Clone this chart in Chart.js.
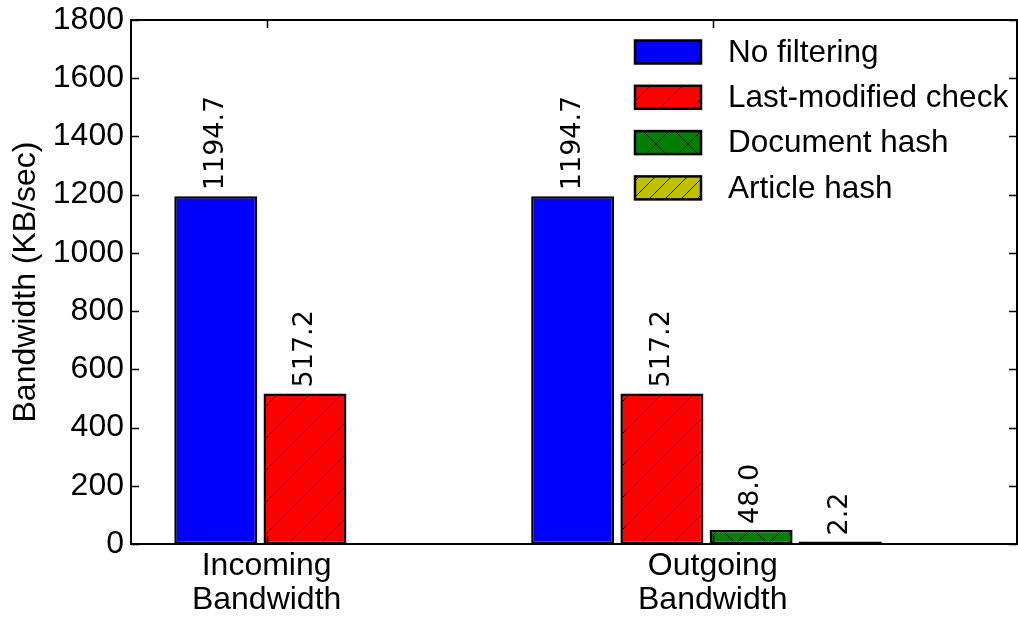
<!DOCTYPE html>
<html>
<head>
<meta charset="utf-8">
<script src="https://cdn.jsdelivr.net/npm/chart.js@4/dist/chart.umd.min.js"></script>
<style>
  body { margin: 0; background: #fff; }
  canvas { display: block; }
</style>
</head>
<body>
<canvas id="grafico" width="1018" height="618"></canvas>
<script>
// datos
const categorias = [["Incoming", "Bandwidth"], ["Outgoing", "Bandwidth"]];
const series = ["No filtering", "Last-modified check", "Document hash", "Article hash"];
const noFiltering = [1194.7, 1194.7];
const lastModified = [517.2, 517.2];
const documentHash = [null, 48.0];
const articleHash = [null, 2.2];
const yTicks = [0, 200, 400, 600, 800, 1000, 1200, 1400, 1600, 1800];

const valores = [noFiltering, lastModified, documentHash, articleHash];
const porGrupo = 4; // cada grupo ocupa 4 posiciones en el eje x

// tramas (hatch) estilo matplotlib
function trama(color, tipo, paso) {
  const c = document.createElement("canvas");
  c.width = paso;
  c.height = paso;
  const g = c.getContext("2d");
  g.fillStyle = color;
  g.fillRect(0, 0, paso, paso);
  g.strokeStyle = "#000";
  g.lineWidth = 1;
  g.beginPath();
  if (tipo === "/" || tipo === "x") {
    g.moveTo(-1, paso + 1); g.lineTo(paso + 1, -1);
  }
  if (tipo === "x") {
    g.moveTo(-1, -1); g.lineTo(paso + 1, paso + 1);
  }
  g.stroke();
  return g.createPattern(c, "repeat");
}

const rellenos = [
  "#0000ff",
  trama("#ff0000", "/", 32),
  trama("#008000", "x", 32),
  trama("#bfbf00", "/", 16),
];

const datasets = series.map((nombre, j) => ({
  label: nombre,
  data: valores[j]
    .map((v, i) => (v === null ? null : { x: i * porGrupo + j, y: v }))
    .filter((p) => p !== null),
  backgroundColor: rellenos[j],
  borderColor: "#000",
  borderWidth: 2.5,
  borderSkipped: false,
  minBarLength: 2.5,
  grouped: false,
  categoryPercentage: 1,
  barPercentage: 0.93,
}));

// posicion de la etiqueta de cada grupo: centro de sus barras
const posGrupos = categorias.map((_, i) => {
  const xs = valores.map((s, j) => (s[i] === null ? null : i * porGrupo + j)).filter((x) => x !== null);
  return xs.reduce((a, b) => a + b, 0) / xs.length + 0.07;
});

Chart.defaults.color = "#000";
Chart.defaults.font.family = "'Liberation Sans', Arial, sans-serif";

// marco, ticks hacia adentro, etiquetas de valor y leyenda
const extras = {
  id: "extras",
  afterDatasetsDraw(chart) {
    const ctx = chart.ctx;
    const { left, right, top, bottom } = chart.chartArea;
    const xs = chart.scales.x;
    const ys = chart.scales.y;
    ctx.save();
    ctx.strokeStyle = "#000";
    ctx.lineWidth = 2;
    ctx.strokeRect(left, top, right - left, bottom - top);
    ctx.lineWidth = 1.5;
    ctx.beginPath();
    yTicks.forEach((v) => {
      const py = Math.round(ys.getPixelForValue(v)) + 0.5;
      ctx.moveTo(left, py); ctx.lineTo(left + 8, py);
      ctx.moveTo(right, py); ctx.lineTo(right - 8, py);
    });
    posGrupos.forEach((v) => {
      const px = Math.round(xs.getPixelForValue(v)) + 0.5;
      ctx.moveTo(px, bottom); ctx.lineTo(px, bottom - 8);
      ctx.moveTo(px, top); ctx.lineTo(px, top + 8);
    });
    ctx.stroke();

    // etiquetas de valor
    ctx.fillStyle = "#000";
    ctx.font = "27px 'DejaVu Sans'";
    ctx.textAlign = "left";
    ctx.textBaseline = "middle";
    chart.data.datasets.forEach((ds, j) => {
      const meta = chart.getDatasetMeta(j);
      meta.data.forEach((bar, k) => {
        ctx.save();
        ctx.translate(bar.x, bar.y - 6);
        ctx.rotate(-Math.PI / 2);
        ctx.fillText(ds.data[k].y.toFixed(1), 0, 0);
        ctx.restore();
      });
    });

    // leyenda
    ctx.font = "31.5px 'Liberation Sans'";
    chart.data.datasets.forEach((ds, j) => {
      const cy = 52 + j * 45.3;
      ctx.fillStyle = ds.backgroundColor;
      ctx.fillRect(635, cy - 11.5, 66, 23);
      ctx.lineWidth = 2.5;
      ctx.strokeRect(635, cy - 11.5, 66, 23);
      ctx.fillStyle = "#000";
      ctx.fillText(ds.label, 728, cy + 1);
    });
    ctx.restore();
  },
};

new Chart(document.getElementById("grafico"), {
  type: "bar",
  data: { datasets },
  options: {
    responsive: false,
    animation: false,
    layout: { padding: { top: 20, right: 1, left: 0, bottom: 0 } },
    plugins: { legend: { display: false }, tooltip: { enabled: false } },
    scales: {
      x: {
        type: "linear",
        offset: false,
        min: -0.95,
        max: 8.98,
        grid: { display: false, drawTicks: false },
        border: { display: false },
        afterBuildTicks: (scale) => {
          scale.ticks = posGrupos.map((v) => ({ value: v }));
        },
        afterFit: (scale) => {
          scale.height = 74;
          scale.paddingLeft = 0;
          scale.paddingRight = 0;
        },
        ticks: {
          autoSkip: false,
          maxRotation: 0,
          padding: 5,
          font: { size: 32, lineHeight: 1.06 },
          callback: (v, i) => categorias[i],
        },
      },
      y: {
        min: 0,
        max: 1800,
        grid: { display: false, drawTicks: false },
        border: { display: false },
        afterBuildTicks: (scale) => {
          scale.ticks = yTicks.map((v) => ({ value: v }));
        },
        afterFit: (scale) => {
          scale.width = 131;
          scale.paddingTop = 0;
          scale.paddingBottom = 0;
        },
        ticks: { padding: 7, font: { size: 32 }, callback: (v) => String(v) },
        title: {
          display: true,
          text: "Bandwidth (KB/sec)",
          font: { size: 32 },
          padding: { top: 7, bottom: 0 },
        },
      },
    },
  },
  plugins: [extras],
});
</script>
</body>
</html>
